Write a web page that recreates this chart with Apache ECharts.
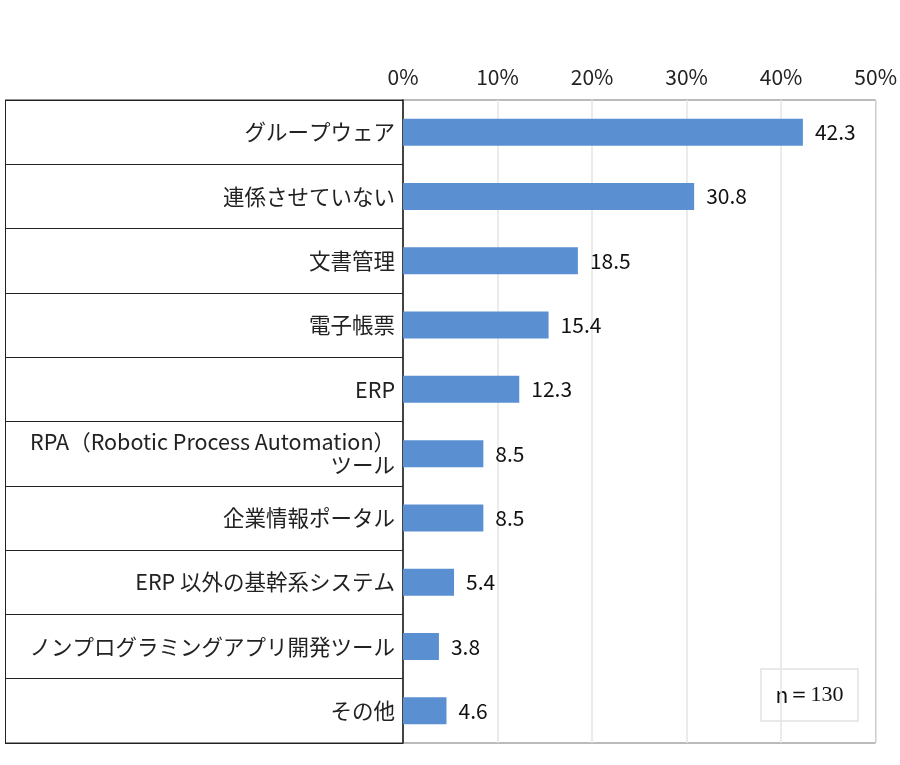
<!DOCTYPE html>
<html>
<head>
<meta charset="utf-8">
<script src="https://cdn.jsdelivr.net/npm/echarts@6/dist/echarts.min.js"></script>
<style>
  html, body { margin: 0; padding: 0; background: #fff; }
  #main { width: 900px; height: 765px; }
</style>
</head>
<body>
<div id="main"></div>
<script>
// 連携先システム（n=130）
const categories = [
  'グループウェア',
  '連係させていない',
  '文書管理',
  '電子帳票',
  'ERP',
  'RPA（Robotic Process Automation）\nツール',
  '企業情報ポータル',
  'ERP 以外の基幹系システム',
  'ノンプログラミングアプリ開発ツール',
  'その他'
];
const values = [42.3, 30.8, 18.5, 15.4, 12.3, 8.5, 8.5, 5.4, 3.8, 4.6];
const axisMax = 50;
const axisStep = 10;

const font = '"Noto Sans CJK JP", "Noto Sans", sans-serif';
const chart = echarts.init(document.getElementById('main'));

const option = {
  backgroundColor: '#fff',
  animation: false,
  grid: {
    left: 403, right: 22, top: 100, bottom: 22,
    show: true,
    borderColor: '#777',
    borderWidth: 1
  },
  xAxis: {
    type: 'value',
    position: 'top',
    min: 0,
    max: axisMax,
    interval: axisStep,
    axisLine: { show: false },
    axisTick: { show: false },
    axisLabel: {
      formatter: '{value}%',
      fontSize: 21,
      color: '#222',
      fontFamily: font,
      margin: 12
    },
    splitLine: { lineStyle: { color: '#e4e4e4', width: 1.5 } }
  },
  yAxis: {
    type: 'category',
    inverse: true,
    data: categories,
    axisLine: { lineStyle: { color: '#111', width: 1.5 } },
    // category boundaries drawn as the left table's row lines
    axisTick: {
      show: true,
      inside: false,
      length: 398,
      lineStyle: { color: '#222', width: 1 }
    },
    axisLabel: {
      fontSize: 21.5,
      color: '#222',
      fontFamily: font,
      margin: 8,
      align: 'right',
      lineHeight: 23
    }
  },
  series: [{
    type: 'bar',
    data: values,
    barWidth: 27,
    itemStyle: { color: '#5a8fd1' },
    label: {
      show: true,
      position: 'right',
      distance: 12,
      fontSize: 21,
      color: '#111',
      fontFamily: font,
      formatter: p => p.value.toFixed(1)
    }
  }],
  graphic: [
    {
      type: 'line',
      shape: { x1: 5.5, y1: 100, x2: 5.5, y2: 743 },
      style: { stroke: '#222', lineWidth: 1 }
    },
    {
      type: 'line',
      shape: { x1: 5, y1: 100, x2: 403, y2: 100 },
      style: { stroke: '#222', lineWidth: 1 }
    },
    {
      type: 'line',
      shape: { x1: 5, y1: 743, x2: 403, y2: 743 },
      style: { stroke: '#222', lineWidth: 1 }
    },
    {
      type: 'rect',
      shape: { x: 761, y: 669, width: 97, height: 52 },
      style: { fill: '#fff', stroke: '#e2e2e2', lineWidth: 1.5 }
    },
    {
      type: 'text',
      x: 809.5, y: 695,
      style: {
        text: '{n|n}{r|＝130}',
        rich: {
          n: { fontSize: 21, fontFamily: font, fill: '#111' },
          r: { fontSize: 22, fontFamily: '"Liberation Serif", "DejaVu Serif", serif', fill: '#111' }
        },
        align: 'center',
        verticalAlign: 'middle'
      }
    }
  ]
};

chart.setOption(option);
</script>
</body>
</html>
